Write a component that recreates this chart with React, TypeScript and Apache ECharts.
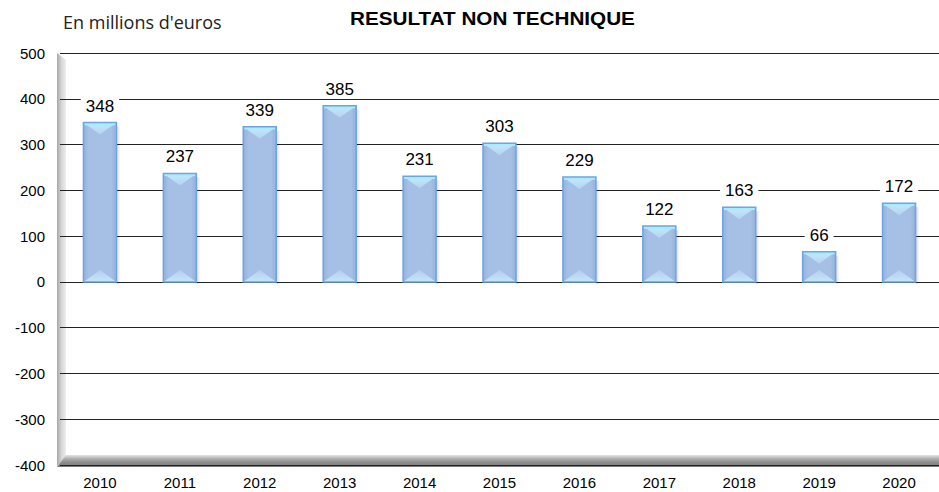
import React, { useEffect, useRef } from "react";
import * as echarts from "echarts";

const years = ["2010", "2011", "2012", "2013", "2014", "2015", "2016", "2017", "2018", "2019", "2020"];
const values = [348, 237, 339, 385, 231, 303, 229, 122, 163, 66, 172];
const yMin = -400;
const yMax = 500;
const yStep = 100;
const titleText = "RESULTAT NON TECHNIQUE";
const unitText = "En millions d'euros";

export default function App() {
  const ref = useRef<HTMLDivElement>(null);
  useEffect(() => {
    if (!ref.current) return;
    const chart = echarts.init(ref.current, null, { renderer: "svg" });
    const option: any = {
      animation: false,
      backgroundColor: "#ffffff",
      graphic: [
        {
          type: "text",
          x: 63,
          y: 13,
          style: { text: unitText, font: "18px 'Open Sans'", fill: "#222" },
        },
        {
          type: "text",
          x: 350,
          y: 9,
          scaleX: 1.15,
          style: { text: titleText, font: "bold 18px 'Liberation Sans'", fill: "#000" },
        },
        {
          type: "polygon",
          z: -10,
          shape: { points: [[57, 53], [66, 60], [66, 458], [57, 466]] },
          style: {
            fill: new echarts.graphic.LinearGradient(0, 0, 1, 0, [
              { offset: 0, color: "#a8a8a8" },
              { offset: 0.5, color: "#d6d6d6" },
              { offset: 1, color: "#eeeeee" },
            ]),
          },
        },
        {
          type: "polygon",
          z: -10,
          shape: { points: [[66, 455], [939, 455], [939, 467], [57, 467]] },
          style: {
            fill: new echarts.graphic.LinearGradient(0, 0, 0, 1, [
              { offset: 0, color: "#e4e4e4" },
              { offset: 0.3, color: "#b0b0b0" },
              { offset: 0.6, color: "#8e8e8e" },
              { offset: 1, color: "#7a7a7a" },
            ]),
          },
        },
      ],
      grid: { left: 60, top: 53, bottom: 27, width: 894, containLabel: false },
      xAxis: {
        type: "category",
        data: years,
        axisLine: { show: false },
        axisTick: { show: false },
        axisLabel: { color: "#000", fontSize: 15, fontFamily: "Liberation Sans", margin: 10 },
      },
      yAxis: {
        type: "value",
        min: yMin,
        max: yMax,
        interval: yStep,
        axisLine: { show: false },
        axisTick: { show: false },
        axisLabel: { color: "#000", fontSize: 15, fontFamily: "Liberation Sans", margin: 15 },
        splitLine: { lineStyle: { color: "#222", width: 1 } },
      },
      series: [
        {
          type: "custom",
          data: values.map((v, i) => [i, v]),
          z: 3,
          renderItem: (params: any, api: any) => {
            const xi = api.value(0);
            const v = api.value(1);
            const top = api.coord([xi, v]);
            const base = api.coord([xi, 0]);
            const w = 33;
            const cx = top[0];
            const l = cx - w / 2;
            const r = cx + w / 2;
            const t = Math.min(top[1], base[1]);
            const b = Math.max(top[1], base[1]);
            const h = b - t;
            const d = Math.min(12, h / 2);
            return {
              type: "group",
              children: [
                {
                  type: "rect",
                  shape: { x: r, y: t + 4, width: 4, height: h - 2 },
                  style: {
                    fill: new echarts.graphic.LinearGradient(0, 0, 1, 0, [
                      { offset: 0, color: "rgba(0,0,0,0.16)" },
                      { offset: 1, color: "rgba(0,0,0,0)" },
                    ]),
                  },
                },
                {
                  type: "rect",
                  shape: { x: l, y: t, width: w, height: h },
                  style: {
                    fill: new echarts.graphic.LinearGradient(0, 0, 1, 0, [
                      { offset: 0, color: "#93b2dc" },
                      { offset: 0.15, color: "#a5bfe5" },
                      { offset: 0.85, color: "#a5bfe5" },
                      { offset: 1, color: "#93b2dc" },
                    ]),
                  },
                },
                {
                  type: "polygon",
                  shape: { points: [[l, t], [r, t], [cx, t + d]] },
                  style: {
                    fill: new echarts.graphic.LinearGradient(0, 0, 0, 1, [
                      { offset: 0, color: "#c4ecfb" },
                      { offset: 1, color: "#b4d2f0" },
                    ]),
                  },
                },
                {
                  type: "polygon",
                  shape: { points: [[l, b], [r, b], [cx, b - d]] },
                  style: {
                    fill: new echarts.graphic.LinearGradient(0, 1, 0, 0, [
                      { offset: 0, color: "#c4e6f8" },
                      { offset: 1, color: "#b2cfee" },
                    ]),
                  },
                },
                {
                  type: "line",
                  shape: { x1: l + 1, y1: t + 1.5, x2: r - 1, y2: t + 1.5 },
                  style: { stroke: "#a6ecff", lineWidth: 2.5 },
                },
                {
                  type: "rect",
                  shape: { x: l, y: t, width: w, height: h },
                  style: { fill: "none", stroke: "#6fa3e6", lineWidth: 1.5 },
                },
              ],
            };
          },
        },
        {
          type: "bar",
          data: values,
          barWidth: 33,
          z: 4,
          itemStyle: { color: "rgba(0,0,0,0)" },
          label: {
            show: true,
            position: "top",
            distance: 7,
            color: "#000",
            fontSize: 17,
            fontFamily: "Liberation Sans",
            backgroundColor: "#ffffff",
            padding: [1, 5],
          },
        },
      ],
    };
    chart.setOption(option);
    return () => chart.dispose();
  }, []);
  return <div ref={ref} style={{ width: 939, height: 492, position: "absolute", left: 0, top: 0 }} />;
}
